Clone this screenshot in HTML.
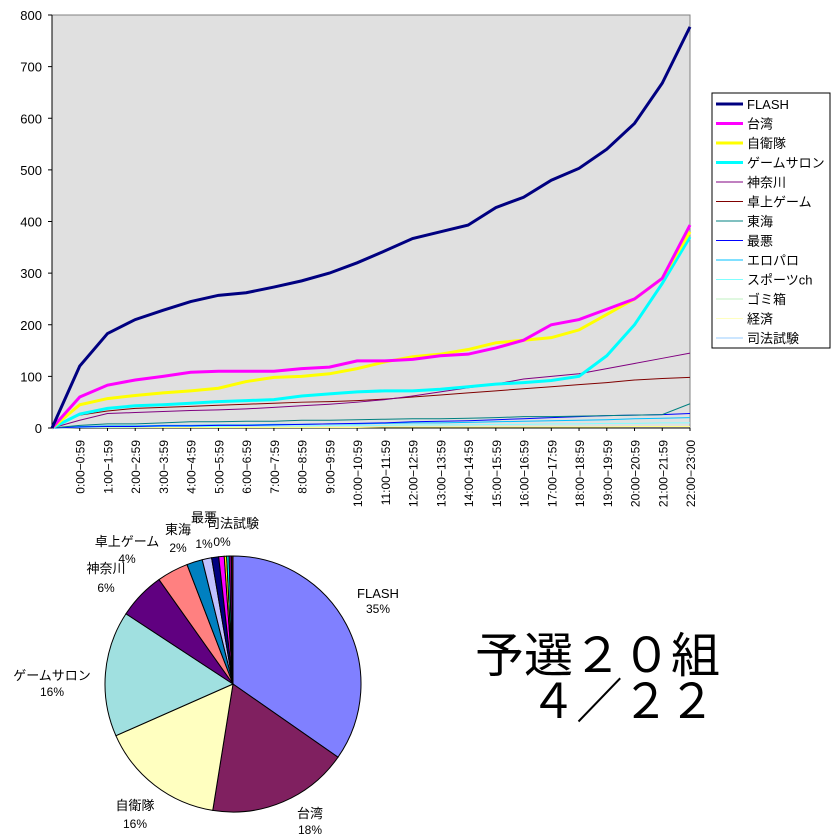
<!DOCTYPE html>
<html><head><meta charset="utf-8"><style>
body{margin:0;background:#fff;width:840px;height:840px;overflow:hidden}
svg{position:absolute;left:0;top:0}
text{font-family:"Liberation Sans","Noto Sans CJK JP",sans-serif}
</style></head><body>
<svg id="s" width="840" height="840" xmlns="http://www.w3.org/2000/svg"></svg>
<script>
const S=document.getElementById('s');let h='';
const X0=52,X1=690,Y0=428,Y1=15;
const xs=i=>X0+i*(X1-X0)/23, ys=v=>Y0-v*(Y0-Y1)/800;
h+=`<rect x="${X0}" y="${Y1}" width="${X1-X0}" height="${Y0-Y1}" fill="#e0e0e0" stroke="#808080"/>`;
for(let v=0;v<=800;v+=100){h+=`<line x1="${X0-4}" x2="${X0}" y1="${ys(v)}" y2="${ys(v)}" stroke="#000"/><text x="${X0-10}" y="${ys(v)+5}" font-size="13" text-anchor="end">${v}</text>`;}
h+=`<line x1="${X0}" x2="${X0}" y1="${Y1}" y2="${Y0}" stroke="#000"/><line x1="${X0}" x2="${X1}" y1="${Y0}" y2="${Y0}" stroke="#000"/>`;
const labs=["0:00-0:59","1:00-1:59","2:00-2:59","3:00-3:59","4:00-4:59","5:00-5:59","6:00-6:59","7:00-7:59","8:00-8:59","9:00-9:59","10:00-10:59","11:00-11:59","12:00-12:59","13:00-13:59","14:00-14:59","15:00-15:59","16:00-16:59","17:00-17:59","18:00-18:59","19:00-19:59","20:00-20:59","21:00-21:59","22:00-23:00"];
for(let i=1;i<=23;i++){const x=xs(i);h+=`<line x1="${x}" x2="${x}" y1="${Y0}" y2="${Y0+3}" stroke="#000"/><text transform="translate(${x+5},440) rotate(-90)" font-size="12" text-anchor="end">${labs[i-1].replace('-','−')}</text>`;}
const ser=[
["#000080",3,[0,120,183,210,228,245,257,262,273,285,300,320,343,367,380,393,427,447,480,503,540,590,668,777]],
["#ff00ff",3,[0,60,83,93,100,108,110,110,110,115,118,130,130,133,140,143,155,170,200,210,230,250,290,393]],
["#ffff00",3,[0,45,57,63,68,72,77,90,98,100,105,115,128,138,143,152,165,170,175,190,220,250,290,380]],
["#00ffff",3,[0,27,38,43,45,48,51,53,55,62,66,70,72,72,75,80,85,88,92,100,140,200,280,370]],
["#800080",1,[0,15,28,30,32,34,35,37,40,43,46,50,55,62,70,78,85,95,100,105,115,125,135,145]],
["#800000",1,[0,25,33,38,40,42,44,46,48,50,51,53,56,60,64,68,72,76,80,84,88,93,96,98]],
["#008080",1,[0,5,8,8,10,12,12,13,13,15,15,16,17,18,18,19,20,22,22,23,24,25,26,47]],
["#0000ff",1,[0,2,3,3,4,4,5,5,6,7,8,9,10,12,13,14,16,18,20,22,24,25,26,28]],
["#00c0ff",1,[0,3,4,4,5,5,6,6,7,7,8,8,9,10,10,11,12,13,14,15,16,18,19,20]],
["#80ffff",1,[0,1,2,2,3,3,3,4,4,4,5,5,5,6,6,6,7,7,8,8,9,9,10,10]],
["#ffff80",1,[0,1,1,1,1,1,1,1,1,1,1,1,2,2,2,2,2,2,2,2,2,3,3,3]],
];
for(let k=ser.length-1;k>=0;k--){const[c,w,d]=ser[k];h+=`<polyline fill="none" stroke="${c}" stroke-width="${w}" points="${d.map((v,i)=>xs(i)+','+ys(v)).join(' ')}"/>`;}
h+=`<rect x="712" y="93" width="118" height="255" fill="#fff" stroke="#000"/>`;
const ln=[["FLASH","#000080",3],["台湾","#ff00ff",3],["自衛隊","#ffff00",3],["ゲームサロン","#00ffff",3],["神奈川","#800080",1],["卓上ゲーム","#800000",1],["東海","#008080",1],["最悪","#0000ff",1],["エロパロ","#00c0ff",1],["スポーツch","#80ffff",1],["ゴミ箱","#c0f0c0",1],["経済","#ffffc0",1],["司法試験","#99ccff",1]];
ln.forEach((l,i)=>{const y=104+i*19.5;h+=`<line x1="716" x2="743" y1="${y}" y2="${y}" stroke="${l[1]}" stroke-width="${l[2]}"/><text x="747" y="${y+5}" font-size="13">${l[0]}</text>`;});
const cx=233,cy=684,r=128;
const pv=[[35,"#8080ff"],[18,"#802060"],[16,"#ffffc0"],[16,"#a0e0e0"],[6,"#600080"],[4,"#ff8080"],[2,"#0080c0"],[1.2,"#c0c0ff"],[0.9,"#000080"],[0.7,"#ff00ff"],[0.3,"#ffff00"],[0.3,"#00ffff"],[0.3,"#800080"],[0.2,"#800000"]];
const tot=pv.reduce((a,b)=>a+b[0],0);let a=0;
pv.forEach(([v,c])=>{const a0=a/tot*2*Math.PI,a1=(a+v)/tot*2*Math.PI;a+=v;
const p=t=>[cx+r*Math.sin(t),cy-r*Math.cos(t)];const[x0,y0]=p(a0),[x1,y1]=p(a1);
h+=`<path d="M${cx},${cy}L${x0},${y0}A${r},${r} 0 ${a1-a0>Math.PI?1:0} 1 ${x1},${y1}Z" fill="${c}" stroke="#000" stroke-width="1"/>`;});
const pl=[["FLASH","35%",378,598,613],["台湾","18%",310,818,834],["自衛隊","16%",135,810,828],["ゲームサロン","16%",52,680,696],["神奈川","6%",106,573,592],["卓上ゲーム","4%",127,546,563],["東海","2%",178,534,552],["最悪","1%",204,522,548]];
pl.forEach(p=>{h+=`<text x="${p[2]}" y="${p[3]}" font-size="13" text-anchor="middle">${p[0]}</text><text x="${p[2]}" y="${p[4]}" font-size="12" text-anchor="middle">${p[1]}</text>`;});
h+=`<text x="233" y="528" font-size="13" text-anchor="middle">司法試験</text><text x="222" y="546" font-size="12" text-anchor="middle">0%</text>`;
h+=`<text x="475" y="672" font-size="48" textLength="245" lengthAdjust="spacingAndGlyphs">予選２０組</text><text x="530" y="718" font-size="48" textLength="185" lengthAdjust="spacingAndGlyphs">４／２２</text>`;
S.innerHTML=h;
</script>
</body></html>
